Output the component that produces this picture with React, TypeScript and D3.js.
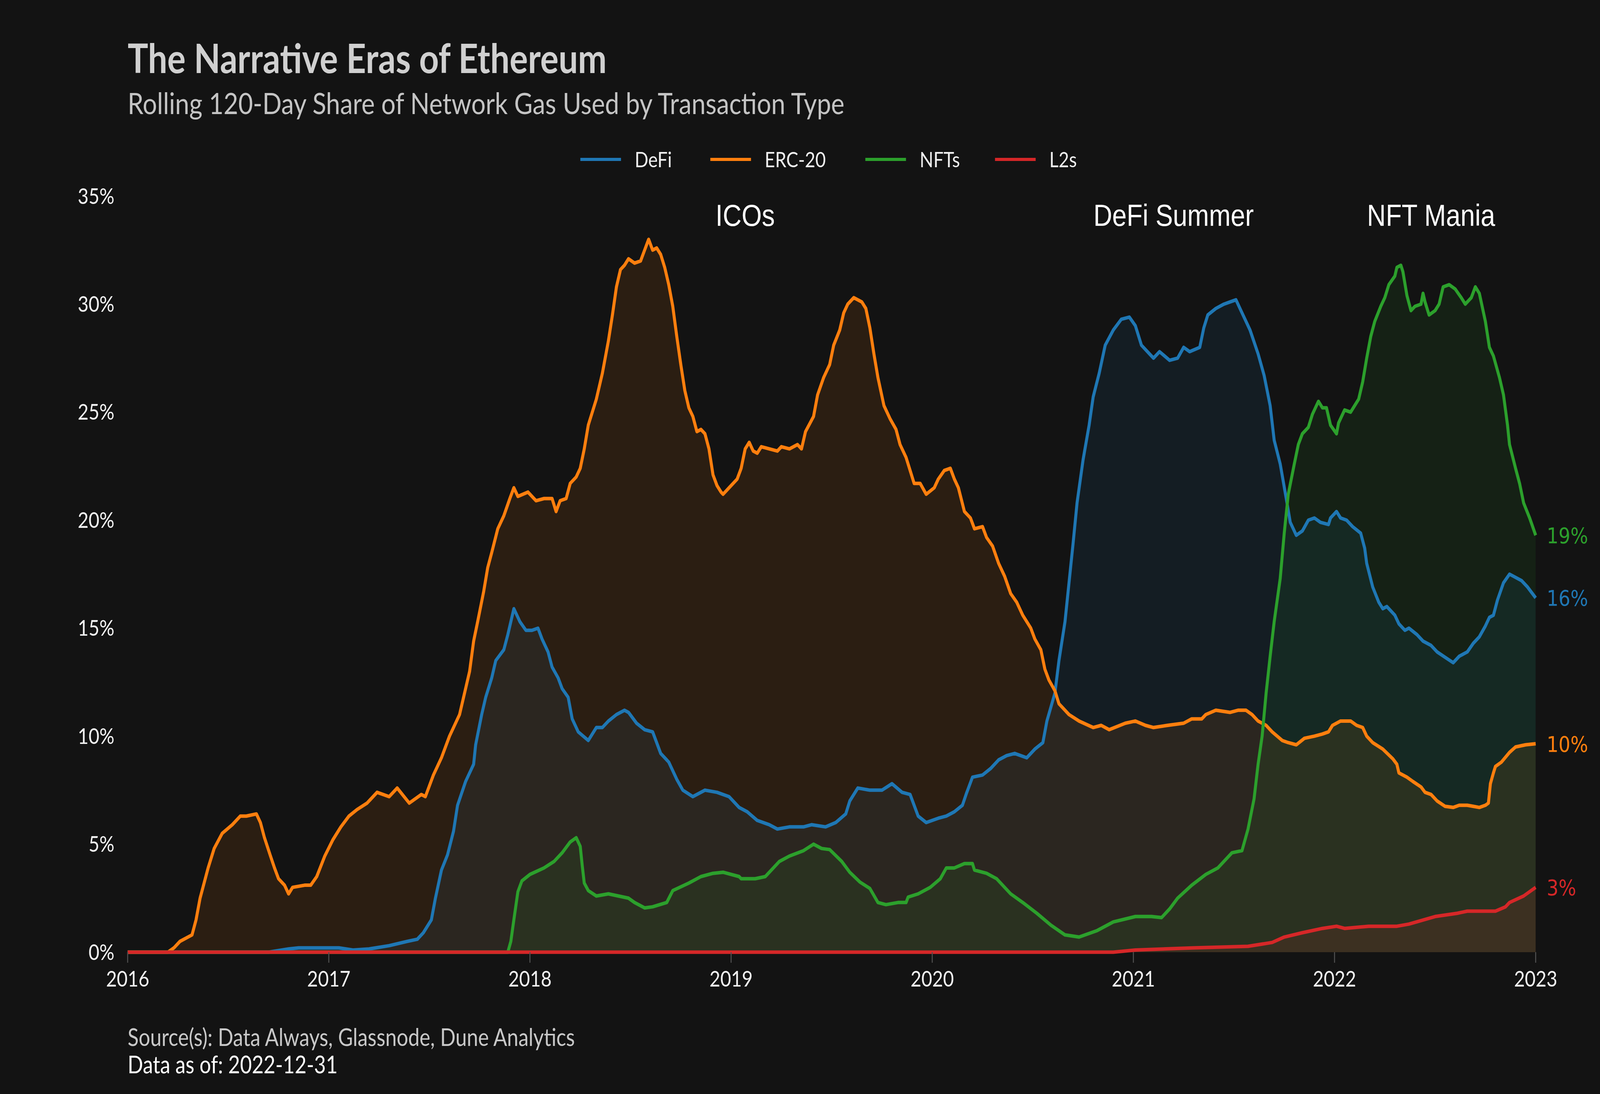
import * as d3 from 'd3'

// [decimal year, share of gas %]
const defi: [number, number][] = [
  [2016.0, 0], [2016.7, 0], [2016.8, 0.15], [2016.85, 0.2], [2017.05, 0.2], [2017.12, 0.1], [2017.2, 0.15],
  [2017.3, 0.3], [2017.39, 0.5], [2017.44, 0.6], [2017.47, 0.9], [2017.51, 1.5], [2017.53, 2.5], [2017.56, 3.8],
  [2017.59, 4.5], [2017.62, 5.6], [2017.64, 6.8], [2017.68, 7.9], [2017.72, 8.7], [2017.73, 9.6], [2017.76, 11.0],
  [2017.78, 11.8], [2017.81, 12.7], [2017.83, 13.5], [2017.87, 14.0], [2017.89, 14.7], [2017.92, 15.9], [2017.95, 15.3],
  [2017.98, 14.9], [2018.01, 14.9], [2018.04, 15.0], [2018.06, 14.5], [2018.09, 13.9], [2018.11, 13.2], [2018.14, 12.7],
  [2018.16, 12.2], [2018.19, 11.8], [2018.21, 10.8], [2018.24, 10.2], [2018.29, 9.8], [2018.33, 10.4], [2018.36, 10.4],
  [2018.39, 10.7], [2018.43, 11.0], [2018.47, 11.2], [2018.49, 11.1], [2018.53, 10.6], [2018.57, 10.3], [2018.61, 10.2],
  [2018.65, 9.2], [2018.69, 8.8], [2018.73, 8.0], [2018.76, 7.5], [2018.81, 7.2], [2018.87, 7.5], [2018.93, 7.4],
  [2018.99, 7.2], [2019.04, 6.7], [2019.08, 6.5], [2019.13, 6.1], [2019.19, 5.9], [2019.23, 5.7], [2019.29, 5.8],
  [2019.36, 5.8], [2019.4, 5.9], [2019.47, 5.8], [2019.52, 6.0], [2019.57, 6.4], [2019.59, 7.0], [2019.63, 7.6],
  [2019.69, 7.5], [2019.75, 7.5], [2019.8, 7.8], [2019.85, 7.4], [2019.89, 7.3], [2019.93, 6.3], [2019.97, 6.0],
  [2020.03, 6.2], [2020.07, 6.3], [2020.11, 6.5], [2020.15, 6.8], [2020.17, 7.35], [2020.2, 8.1], [2020.25, 8.2],
  [2020.29, 8.5], [2020.33, 8.9], [2020.37, 9.1], [2020.41, 9.2], [2020.47, 9.0], [2020.51, 9.4], [2020.55, 9.7],
  [2020.57, 10.7], [2020.61, 12.0], [2020.63, 13.5], [2020.66, 15.3], [2020.68, 17.1], [2020.7, 18.9], [2020.72, 20.8],
  [2020.75, 22.8], [2020.78, 24.4], [2020.8, 25.7], [2020.83, 26.8], [2020.86, 28.1], [2020.9, 28.8], [2020.94, 29.3],
  [2020.98, 29.4], [2021.01, 29.0], [2021.04, 28.1], [2021.08, 27.7], [2021.1, 27.5], [2021.13, 27.8], [2021.18, 27.4],
  [2021.22, 27.5], [2021.25, 28.0], [2021.28, 27.8], [2021.33, 28.0], [2021.35, 28.9], [2021.37, 29.5], [2021.41, 29.8],
  [2021.45, 30.0], [2021.48, 30.1], [2021.51, 30.2], [2021.54, 29.6], [2021.58, 28.8], [2021.62, 27.7], [2021.65, 26.7],
  [2021.68, 25.3], [2021.7, 23.7], [2021.73, 22.6], [2021.76, 21.0], [2021.78, 19.9], [2021.81, 19.3], [2021.84, 19.5],
  [2021.87, 20.0], [2021.9, 20.1], [2021.93, 19.9], [2021.97, 19.8], [2021.98, 20.1], [2022.01, 20.4], [2022.03, 20.1],
  [2022.06, 20.0], [2022.09, 19.7], [2022.13, 19.4], [2022.15, 18.7], [2022.16, 18.0], [2022.19, 16.9], [2022.22, 16.2],
  [2022.24, 15.9], [2022.26, 16.0], [2022.3, 15.6], [2022.32, 15.2], [2022.35, 14.9], [2022.37, 15.0], [2022.41, 14.7],
  [2022.44, 14.4], [2022.48, 14.2], [2022.51, 13.9], [2022.55, 13.65], [2022.59, 13.4], [2022.62, 13.7], [2022.66, 13.9],
  [2022.69, 14.3], [2022.72, 14.6], [2022.75, 15.1], [2022.77, 15.5], [2022.79, 15.6], [2022.81, 16.3], [2022.84, 17.1],
  [2022.87, 17.5], [2022.89, 17.4], [2022.93, 17.2], [2022.96, 16.9], [2023.0, 16.4],
]

const erc20: [number, number][] = [
  [2016.0, 0], [2016.2, 0], [2016.23, 0.2], [2016.26, 0.5], [2016.32, 0.8], [2016.34, 1.5], [2016.36, 2.5],
  [2016.4, 3.9], [2016.43, 4.8], [2016.47, 5.5], [2016.52, 5.9], [2016.56, 6.3], [2016.59, 6.3], [2016.64, 6.4],
  [2016.66, 6.0], [2016.68, 5.3], [2016.71, 4.45], [2016.73, 3.9], [2016.75, 3.4], [2016.78, 3.1], [2016.8, 2.7],
  [2016.82, 3.0], [2016.88, 3.1], [2016.91, 3.1], [2016.94, 3.5], [2016.98, 4.45], [2017.02, 5.2], [2017.06, 5.8],
  [2017.1, 6.3], [2017.14, 6.6], [2017.19, 6.9], [2017.24, 7.4], [2017.3, 7.2], [2017.34, 7.6], [2017.4, 6.9],
  [2017.46, 7.3], [2017.48, 7.2], [2017.52, 8.2], [2017.56, 9.0], [2017.6, 10.0], [2017.65, 11.0], [2017.7, 13.0],
  [2017.72, 14.4], [2017.74, 15.3], [2017.77, 16.7], [2017.79, 17.8], [2017.81, 18.5], [2017.84, 19.6], [2017.87, 20.2],
  [2017.9, 21.0], [2017.92, 21.5], [2017.94, 21.1], [2017.99, 21.3], [2018.03, 20.9], [2018.07, 21.0], [2018.11, 21.0],
  [2018.13, 20.4], [2018.15, 20.9], [2018.18, 21.0], [2018.2, 21.7], [2018.23, 22.0], [2018.25, 22.4], [2018.27, 23.3],
  [2018.29, 24.4], [2018.33, 25.6], [2018.36, 26.8], [2018.39, 28.3], [2018.41, 29.5], [2018.43, 30.8], [2018.45, 31.6],
  [2018.47, 31.8], [2018.49, 32.1], [2018.52, 31.9], [2018.55, 32.0], [2018.57, 32.5], [2018.59, 33.0], [2018.61, 32.5],
  [2018.63, 32.6], [2018.65, 32.3], [2018.67, 31.7], [2018.69, 30.9], [2018.71, 29.9], [2018.73, 28.5], [2018.75, 27.2],
  [2018.77, 26.0], [2018.79, 25.2], [2018.81, 24.8], [2018.83, 24.1], [2018.85, 24.2], [2018.87, 24.0], [2018.89, 23.3],
  [2018.91, 22.1], [2018.93, 21.6], [2018.95, 21.3], [2018.96, 21.2], [2018.99, 21.5], [2019.03, 21.9], [2019.05, 22.4],
  [2019.07, 23.3], [2019.09, 23.6], [2019.11, 23.2], [2019.13, 23.1], [2019.15, 23.4], [2019.19, 23.3], [2019.23, 23.2],
  [2019.25, 23.4], [2019.29, 23.3], [2019.33, 23.5], [2019.35, 23.3], [2019.37, 24.1], [2019.41, 24.8], [2019.43, 25.8],
  [2019.46, 26.6], [2019.49, 27.2], [2019.51, 28.1], [2019.54, 28.8], [2019.56, 29.6], [2019.58, 30.0], [2019.61, 30.3],
  [2019.65, 30.1], [2019.67, 29.8], [2019.69, 28.9], [2019.71, 27.7], [2019.73, 26.6], [2019.76, 25.3], [2019.79, 24.7],
  [2019.82, 24.2], [2019.84, 23.5], [2019.87, 22.9], [2019.89, 22.3], [2019.91, 21.7], [2019.94, 21.7], [2019.97, 21.2],
  [2020.01, 21.5], [2020.03, 21.9], [2020.06, 22.3], [2020.09, 22.4], [2020.11, 21.9], [2020.13, 21.5], [2020.16, 20.4],
  [2020.19, 20.1], [2020.21, 19.6], [2020.25, 19.7], [2020.27, 19.2], [2020.3, 18.8], [2020.33, 18.0], [2020.36, 17.4],
  [2020.39, 16.6], [2020.42, 16.2], [2020.45, 15.6], [2020.49, 15.0], [2020.51, 14.5], [2020.54, 14.0], [2020.56, 13.1],
  [2020.58, 12.6], [2020.61, 12.1], [2020.63, 11.5], [2020.68, 11.0], [2020.73, 10.7], [2020.8, 10.4], [2020.84, 10.5],
  [2020.88, 10.3], [2020.96, 10.6], [2021.01, 10.7], [2021.06, 10.5], [2021.1, 10.4], [2021.17, 10.5], [2021.25, 10.6],
  [2021.29, 10.8], [2021.34, 10.8], [2021.36, 11.0], [2021.41, 11.2], [2021.48, 11.1], [2021.52, 11.2], [2021.56, 11.2],
  [2021.59, 11.0], [2021.62, 10.7], [2021.66, 10.5], [2021.69, 10.2], [2021.74, 9.8], [2021.77, 9.7], [2021.81, 9.6],
  [2021.85, 9.9], [2021.9, 10.0], [2021.94, 10.1], [2021.97, 10.2], [2021.99, 10.5], [2022.03, 10.7], [2022.08, 10.7],
  [2022.11, 10.5], [2022.14, 10.4], [2022.16, 10.0], [2022.19, 9.7], [2022.24, 9.4], [2022.29, 8.95], [2022.31, 8.7],
  [2022.32, 8.3], [2022.36, 8.1], [2022.39, 7.9], [2022.43, 7.65], [2022.45, 7.4], [2022.48, 7.3], [2022.51, 7.0],
  [2022.55, 6.75], [2022.59, 6.7], [2022.62, 6.8], [2022.66, 6.8], [2022.69, 6.75], [2022.72, 6.7], [2022.75, 6.8],
  [2022.765, 6.9], [2022.775, 7.8], [2022.79, 8.3], [2022.8, 8.6], [2022.83, 8.8], [2022.87, 9.25], [2022.9, 9.5],
  [2022.95, 9.6], [2023.0, 9.65],
]

const nfts: [number, number][] = [
  [2016.0, 0], [2017.89, 0], [2017.905, 0.5], [2017.92, 1.5], [2017.94, 2.8], [2017.96, 3.3], [2018.0, 3.6],
  [2018.07, 3.9], [2018.12, 4.2], [2018.16, 4.6], [2018.2, 5.1], [2018.23, 5.3], [2018.25, 4.9], [2018.26, 4.0],
  [2018.27, 3.2], [2018.29, 2.85], [2018.33, 2.6], [2018.39, 2.7], [2018.44, 2.6], [2018.49, 2.5], [2018.52, 2.3],
  [2018.57, 2.05], [2018.61, 2.1], [2018.68, 2.3], [2018.71, 2.85], [2018.79, 3.2], [2018.85, 3.5], [2018.91, 3.65],
  [2018.96, 3.7], [2019.04, 3.5], [2019.05, 3.4], [2019.12, 3.4], [2019.17, 3.5], [2019.24, 4.2], [2019.29, 4.45],
  [2019.36, 4.7], [2019.41, 5.0], [2019.45, 4.8], [2019.49, 4.75], [2019.55, 4.2], [2019.59, 3.7], [2019.64, 3.25],
  [2019.69, 2.95], [2019.73, 2.3], [2019.77, 2.2], [2019.83, 2.3], [2019.87, 2.3], [2019.88, 2.55], [2019.93, 2.7],
  [2019.99, 3.0], [2020.04, 3.4], [2020.07, 3.9], [2020.11, 3.9], [2020.16, 4.1], [2020.2, 4.1], [2020.21, 3.8],
  [2020.27, 3.65], [2020.32, 3.4], [2020.39, 2.7], [2020.45, 2.3], [2020.52, 1.8], [2020.59, 1.25], [2020.66, 0.8],
  [2020.73, 0.7], [2020.82, 1.0], [2020.9, 1.4], [2021.01, 1.65], [2021.09, 1.65], [2021.14, 1.6], [2021.18, 2.0],
  [2021.22, 2.5], [2021.29, 3.1], [2021.36, 3.6], [2021.42, 3.9], [2021.49, 4.6], [2021.54, 4.7], [2021.57, 5.7],
  [2021.6, 7.1], [2021.62, 8.7], [2021.64, 10.0], [2021.66, 12.0], [2021.68, 13.7], [2021.7, 15.3], [2021.73, 17.3],
  [2021.75, 19.4], [2021.77, 21.2], [2021.8, 22.6], [2021.82, 23.5], [2021.84, 24.0], [2021.87, 24.3], [2021.89, 24.9],
  [2021.92, 25.5], [2021.94, 25.2], [2021.96, 25.2], [2021.98, 24.4], [2022.01, 24.0], [2022.02, 24.5], [2022.05, 25.1],
  [2022.08, 25.0], [2022.1, 25.3], [2022.12, 25.6], [2022.14, 26.4], [2022.16, 27.5], [2022.18, 28.5], [2022.2, 29.2],
  [2022.23, 29.9], [2022.25, 30.3], [2022.27, 30.9], [2022.3, 31.3], [2022.31, 31.7], [2022.33, 31.8], [2022.34, 31.5],
  [2022.36, 30.4], [2022.38, 29.7], [2022.4, 29.9], [2022.43, 30.0], [2022.44, 30.5], [2022.45, 30.1], [2022.47, 29.5],
  [2022.5, 29.7], [2022.52, 30.0], [2022.54, 30.8], [2022.57, 30.9], [2022.6, 30.7], [2022.63, 30.3], [2022.65, 30.0],
  [2022.68, 30.3], [2022.7, 30.8], [2022.72, 30.5], [2022.75, 29.2], [2022.77, 28.0], [2022.79, 27.6], [2022.82, 26.6],
  [2022.84, 25.8], [2022.86, 24.4], [2022.87, 23.5], [2022.9, 22.4], [2022.92, 21.7], [2022.94, 20.8], [2022.97, 20.1],
  [2023.0, 19.3],
]

const l2s: [number, number][] = [
  [2016.0, 0], [2020.9, 0], [2021.01, 0.1], [2021.3, 0.2], [2021.57, 0.27], [2021.69, 0.45], [2021.75, 0.7],
  [2021.84, 0.9], [2021.94, 1.1], [2022.01, 1.2], [2022.05, 1.1], [2022.17, 1.2], [2022.31, 1.2], [2022.37, 1.3],
  [2022.5, 1.65], [2022.61, 1.8], [2022.66, 1.9], [2022.8, 1.9], [2022.85, 2.1], [2022.87, 2.3], [2022.94, 2.6],
  [2023.0, 3.0],
]

const seriesNames = ['DeFi', 'ERC-20', 'NFTs', 'L2s']
const seriesColors = ['#1f77b4', '#ff7f0e', '#2ca02c', '#d62728']
const seriesData = [defi, erc20, nfts, l2s]

const yearTicks = [2016, 2017, 2018, 2019, 2020, 2021, 2022, 2023]
const pctTicks = [0, 5, 10, 15, 20, 25, 30, 35]

const eras = [
  { label: 'ICOs', year: 2019.07 },
  { label: 'DeFi Summer', year: 2021.2 },
  { label: 'NFT Mania', year: 2022.48 },
]

// drawing is laid out on a 4800x2800 canvas and stretched onto the window
const W = 4800
const H = 2800
const plot = { left: 383, right: 4607, top: 502, bottom: 2437 }
const bg = '#131313'
const uiFont = 'Lato, "Noto Sans", sans-serif'

export default function App() {
  const x = d3.scaleLinear().domain([2016, 2023]).range([plot.left, plot.right])
  const y = d3.scaleLinear().domain([0, 35]).range([plot.bottom, plot.top])

  const line = d3.line<[number, number]>().x((d) => x(d[0])).y((d) => y(d[1]))
  const area = d3.area<[number, number]>().x((d) => x(d[0])).y0(y(0)).y1((d) => y(d[1]))

  const legendX = [1741, 2131, 2596, 2985]

  return (
    <svg
      viewBox={`0 0 ${W} ${H}`}
      preserveAspectRatio="none"
      style={{ position: 'fixed', left: 0, top: 0, width: '100vw', height: '100vh', display: 'block' }}
    >
      <rect width={W} height={H} fill={bg} />

      <text x={383} y={187} fontFamily={uiFont} fontWeight={700} fontSize={103} fill="#d0d0d0">
        The Narrative Eras of Ethereum
      </text>
      <text x={383} y={292} fontFamily={uiFont} fontSize={76} fill="#c4c4c4">
        Rolling 120-Day Share of Network Gas Used by Transaction Type
      </text>

      {seriesNames.map((name, i) => (
        <g key={name} transform={`translate(${legendX[i]},408)`}>
          <line x1={0} x2={122} y1={0} y2={0} stroke={seriesColors[i]} strokeWidth={8} />
          <text x={163} y={20} fontFamily={uiFont} fontSize={54} fill="#f0f0f0">
            {name}
          </text>
        </g>
      ))}

      {seriesData.map((d, i) => (
        <path key={`a${i}`} d={area(d) ?? ''} fill={seriesColors[i]} fillOpacity={0.1} />
      ))}
      {seriesData.map((d, i) => (
        <path
          key={`l${i}`}
          d={line(d) ?? ''}
          fill="none"
          stroke={seriesColors[i]}
          strokeWidth={9}
          strokeLinejoin="round"
        />
      ))}

      {yearTicks.map((t) => (
        <g key={t}>
          <line x1={x(t)} x2={x(t)} y1={plot.bottom} y2={plot.bottom + 27} stroke="#505050" strokeWidth={3} />
          <text x={x(t)} y={2525} textAnchor="middle" fontFamily={uiFont} fontSize={56} fill="#f2f2f2">
            {t}
          </text>
        </g>
      ))}

      {pctTicks.map((p) => (
        <text
          key={p}
          x={343}
          y={y(p)}
          dy="0.35em"
          textAnchor="end"
          fontFamily={uiFont}
          fontSize={56}
          fill="#f2f2f2"
        >
          {`${p}%`}
        </text>
      ))}

      {eras.map((e) => (
        <text
          key={e.label}
          x={x(e.year)}
          y={578}
          textAnchor="middle"
          fontFamily='"Liberation Sans", Arial, sans-serif'
          fontSize={78}
          fill="#ffffff"
        >
          {e.label}
        </text>
      ))}

      {seriesData.map((d, i) => {
        const last = d[d.length - 1]
        return (
          <text
            key={`e${i}`}
            x={4640}
            y={y(last[1])}
            dy="0.36em"
            fontFamily='"DejaVu Sans", sans-serif'
            fontSize={56}
            fill={seriesColors[i]}
          >
            {`${Math.round(last[1])}%`}
          </text>
        )
      })}

      <text x={383} y={2677} fontFamily={uiFont} fontSize={61} fill="#c8c8c8">
        Source(s): Data Always, Glassnode, Dune Analytics
      </text>
      <text x={383} y={2747} fontFamily={uiFont} fontSize={61} fill="#ffffff">
        Data as of: 2022-12-31
      </text>
    </svg>
  )
}
